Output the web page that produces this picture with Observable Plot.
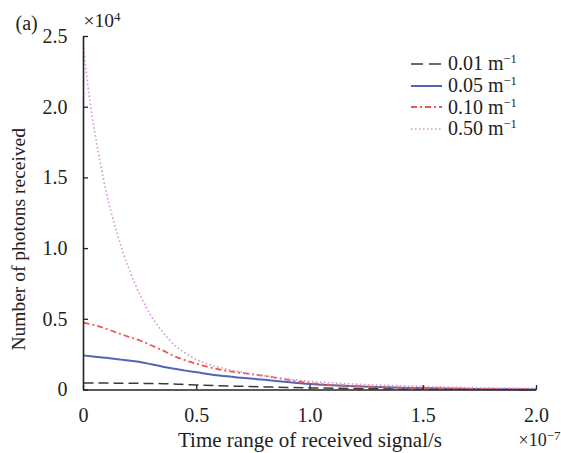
<!DOCTYPE html>
<html><head><meta charset="utf-8">
<script src="https://cdn.jsdelivr.net/npm/d3@7"></script>
<script src="https://cdn.jsdelivr.net/npm/@observablehq/plot@0.6"></script>
<style>
html,body{margin:0;padding:0;background:#fff;}
#wrap{position:relative;width:561px;height:453px;font-family:"Liberation Serif",Tinos,"Times New Roman",Times,"DejaVu Serif",serif;color:#222;}
#legend{position:absolute;left:411px;top:53px;font-size:20px;}
.row{display:flex;align-items:center;height:21.7px;white-space:nowrap;}
.row svg{margin-right:6px;}
.row sup{font-size:12.5px;vertical-align:0;position:relative;top:-7px;}
</style></head><body><div id="wrap"><div id="legend"></div></div>
<script>
// Time (×1e-7 s) and photons received (×1e4)
const time = [0, 0.025, 0.05, 0.075, 0.1, 0.125, 0.15, 0.175, 0.2, 0.25, 0.3, 0.35, 0.4, 0.45, 0.5, 0.6, 0.7, 0.8, 0.9, 1.0, 1.2, 1.4, 1.6, 1.8, 2.0];
const s001 = [0.05, 0.05, 0.05, 0.049, 0.049, 0.049, 0.048, 0.048, 0.048, 0.047, 0.046, 0.045, 0.043, 0.039, 0.035, 0.03, 0.026, 0.022, 0.018, 0.015, 0.01, 0.008, 0.006, 0.005, 0.004];
const s005 = [0.245, 0.24, 0.236, 0.232, 0.228, 0.223, 0.218, 0.213, 0.208, 0.198, 0.182, 0.165, 0.15, 0.137, 0.125, 0.102, 0.086, 0.072, 0.056, 0.042, 0.026, 0.016, 0.01, 0.006, 0.004];
const s010 = [0.475, 0.468, 0.458, 0.446, 0.433, 0.419, 0.404, 0.39, 0.376, 0.35, 0.315, 0.28, 0.24, 0.21, 0.185, 0.145, 0.12, 0.1, 0.073, 0.049, 0.027, 0.016, 0.01, 0.007, 0.005];
const s050 = [2.42, 2.08, 1.82, 1.6, 1.4, 1.24, 1.1, 0.97, 0.86, 0.67, 0.52, 0.41, 0.32, 0.26, 0.215, 0.16, 0.125, 0.1, 0.078, 0.062, 0.042, 0.03, 0.021, 0.015, 0.012];
const seriesNames = ["0.01 m^-1", "0.05 m^-1", "0.10 m^-1", "0.50 m^-1"];
const seriesValues = [s001, s005, s010, s050];
const xTicks = [0, 0.5, 1.0, 1.5, 2.0];
const yTicks = [0, 0.5, 1.0, 1.5, 2.0, 2.5];

const styles = [
  {stroke: "#3a3a3a", strokeWidth: 1.5, strokeDasharray: "10,5"},
  {stroke: "#5264b6", strokeWidth: 2, strokeDasharray: null},
  {stroke: "#e85a50", strokeWidth: 1.8, strokeDasharray: "6,3,2,3"},
  {stroke: "#d696d8", strokeWidth: 1.6, strokeDasharray: "1.6,2.4"}
];

const tables = seriesValues.map(vals => time.map((t, i) => ({t, v: vals[i]})));
const fmt = d => d === 0 ? "0" : d.toFixed(1);
const font = '"Liberation Serif", Tinos, "Times New Roman", Times, "DejaVu Serif", serif';

const chart = Plot.plot({
  width: 561, height: 453,
  marginLeft: 83, marginRight: 25, marginTop: 36, marginBottom: 63.5,
  style: {fontFamily: font, fontSize: "20px", color: "#222", background: "#fff", overflow: "visible"},
  x: {domain: [0, 2], label: null},
  y: {domain: [0, 2.5], label: null},
  marks: [
    ...tables.map((tb, i) => Plot.lineY(tb, {x: "t", y: "v", curve: "monotone-x", ...styles[i], strokeLinecap: "butt"})),
    Plot.axisX(xTicks, {tickSize: -4.5, fill: "none", label: null, strokeWidth: 1.3}),
    Plot.axisY(yTicks, {tickSize: -5, fill: "none", label: null, strokeWidth: 1.3}),
    Plot.axisX(xTicks, {tickSize: 0, tickPadding: 18, tickFormat: fmt, label: null, fontSize: 20}),
    Plot.axisY(yTicks, {tickSize: 0, tickPadding: 16, tickFormat: fmt, label: null, fontSize: 20}),
    Plot.ruleX([0], {stroke: "#222", strokeWidth: 1.6}),
    Plot.ruleY([0], {stroke: "#222", strokeWidth: 1.6}),
    Plot.text(["Number of photons received"], {frameAnchor: "left", textAnchor: "middle", lineAnchor: "middle", dx: -65, dy: 26, rotate: -90, fontSize: 19.5, fill: "#222"}),
    Plot.text(["Time range of received signal/s"], {frameAnchor: "bottom", lineAnchor: "middle", dy: 50.5, fontSize: 21, fill: "#222"}),
    Plot.text(["×10^-7"], {frameAnchor: "bottom-right", lineAnchor: "middle", dx: 24, dy: 50, textAnchor: "end", fontSize: 18, fill: "#222"}),
    Plot.text(["×10^4"], {frameAnchor: "top-left", lineAnchor: "middle", dx: 0, dy: -16, textAnchor: "start", fontSize: 19.5, fill: "#222"}),
    Plot.text(["(a)"], {frameAnchor: "top-left", lineAnchor: "middle", dx: -68, dy: -13, textAnchor: "start", fontSize: 20, fill: "#222"})
  ]
});

// superscripts as real text via tspans
chart.querySelectorAll("text").forEach(t => {
  const s = t.textContent;
  if (s.includes("^")) {
    const [base, sup] = s.split("^");
    t.textContent = "";
    const a = document.createElementNS("http://www.w3.org/2000/svg", "tspan");
    a.textContent = base;
    const b = document.createElementNS("http://www.w3.org/2000/svg", "tspan");
    b.textContent = sup.replace("-", "\u2212");
    b.setAttribute("dy", "-0.45em");
    b.setAttribute("font-size", "13");
    t.appendChild(a); t.appendChild(b);
  }
});

const wrap = document.getElementById("wrap");
wrap.insertBefore(chart, wrap.firstChild);

const legend = document.getElementById("legend");
seriesNames.forEach((name, i) => {
  const row = document.createElement("div");
  row.className = "row";
  const st = styles[i];
  row.innerHTML = `<svg width="31" height="10"><line x1="0" x2="31" y1="5" y2="5" stroke="${st.stroke}" stroke-width="${st.strokeWidth}" ${st.strokeDasharray ? `stroke-dasharray="${i === 0 ? "12,6" : st.strokeDasharray}"` : ""}/></svg>`;
  const [base, sup] = name.split("^");
  const span = document.createElement("span");
  span.innerHTML = base + "<sup>" + sup.replace("-", "\u2212") + "</sup>";
  row.appendChild(span);
  legend.appendChild(row);
});
</script></body></html>
